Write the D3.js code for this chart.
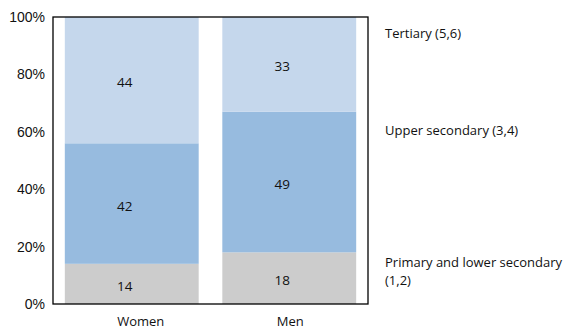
<!DOCTYPE html>
<html>
<head>
<meta charset="utf-8">
<script src="https://cdn.jsdelivr.net/npm/d3@7"></script>
<style>
  html, body { margin: 0; padding: 0; background: #fff; }
  svg text { font-family: "Open Sans", "Noto Sans", sans-serif; fill: #111; }
</style>
</head>
<body>
<svg id="chart" width="569" height="330"></svg>
<script>
// Share of population by education level (%)
const categories = ["Women", "Men"];
const levels = ["Primary and lower secondary (1,2)", "Upper secondary (3,4)", "Tertiary (5,6)"];
const primaryLower = [14, 18];
const upperSecondary = [42, 49];
const tertiary = [44, 33];
const yTicks = [0, 20, 40, 60, 80, 100];
const colors = ["#cccccc", "#97bbdf", "#c5d7ec"];

const series = [primaryLower, upperSecondary, tertiary];
const rows = categories.map((c, i) => {
  const r = { category: c };
  levels.forEach((l, j) => { r[l] = series[j][i]; });
  return r;
});
const stacked = d3.stack().keys(levels)(rows);

const svg = d3.select("#chart");
const margin = { left: 53, top: 17, right: 201, bottom: 26 };
const W = 569, H = 330;
const innerW = W - margin.left - margin.right;
const innerH = H - margin.top - margin.bottom;

const x = d3.scaleBand().domain(categories).range([0, innerW]).paddingInner(0.15).paddingOuter(0.075);
const y = d3.scaleLinear().domain([0, 100]).range([innerH, 0]);

const g = svg.append("g").attr("transform", `translate(${margin.left},${margin.top})`);

// stacked bars
const layer = g.selectAll(".layer").data(stacked).join("g")
  .attr("fill", (d, i) => colors[i]);
layer.selectAll("rect").data(d => d).join("rect")
  .attr("x", d => x(d.data.category))
  .attr("width", x.bandwidth())
  .attr("y", d => y(d[1]))
  .attr("height", d => y(d[0]) - y(d[1]));

// value labels, sitting a little left of each bar's centre
layer.selectAll("text").data(d => d.map(v => ({ v, key: d.key }))).join("text")
  .attr("x", d => x(d.v.data.category) + x.bandwidth() / 2 - 7)
  .attr("y", d => (y(d.v[0]) + y(d.v[1])) / 2 + 2)
  .attr("text-anchor", "middle")
  .attr("dominant-baseline", "central")
  .style("font-size", "13.5px")
  .text(d => d.v.data[d.key]);

// frame
g.append("rect").attr("x", 0).attr("y", 0).attr("width", innerW).attr("height", innerH)
  .attr("fill", "none").attr("stroke", "#000").attr("stroke-width", 1.3);

// y axis
const yAxis = g.append("g").call(d3.axisLeft(y).tickValues(yTicks).tickSize(0).tickPadding(8).tickFormat(d => d + "%"));
yAxis.select(".domain").remove();
yAxis.selectAll("text")
  .style("font-family", "'Liberation Sans', Arial, sans-serif")
  .style("font-size", "14px");

// x axis
const xShift = { Women: 9, Men: 1 };
const xAxis = g.append("g").attr("transform", `translate(0,${innerH})`)
  .call(d3.axisBottom(x).tickSize(0).tickPadding(13));
xAxis.select(".domain").remove();
xAxis.selectAll("text")
  .attr("dx", d => xShift[d])
  .style("font-size", "13px");

// series labels to the right of the plot
const legendPos = [
  { lines: ["Primary and lower secondary", "(1,2)"], yv: 14.6 },
  { lines: ["Upper secondary (3,4)"], yv: 60.5 },
  { lines: ["Tertiary (5,6)"], yv: 94.4 }
];
const legend = svg.append("g").attr("transform", `translate(${margin.left + innerW + 17},${margin.top})`);
legendPos.forEach(p => {
  p.lines.forEach((ln, k) => {
    legend.append("text")
      .attr("x", 0)
      .attr("y", y(p.yv) + k * 18)
      .attr("dy", "0.35em")
      .style("font-size", "13px")
      .text(ln);
  });
});
</script>
</body>
</html>
